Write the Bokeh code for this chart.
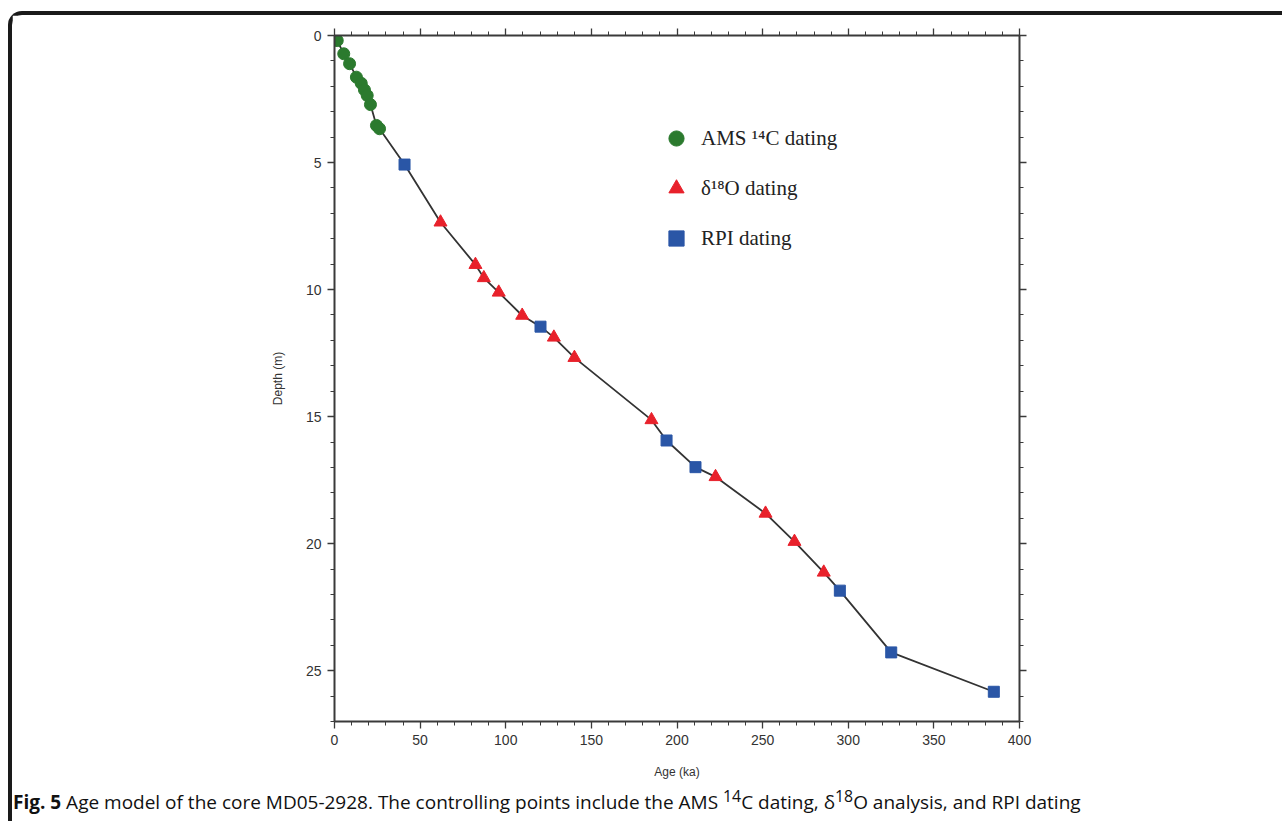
from bokeh.plotting import figure
from bokeh.models import (Range1d, LinearAxis, SingleIntervalTicker, Legend, LegendItem, Div)
from bokeh.layouts import column
from bokeh.embed import file_html
from bokeh.resources import INLINE

# ---- data ----
ams_age = [1.6, 5.4, 8.8, 12.8, 15.6, 17.5, 19.1, 21.0, 24.5, 26.3]
ams_depth = [0.20, 0.72, 1.11, 1.64, 1.88, 2.14, 2.36, 2.72, 3.54, 3.67]
d18o_age = [61.9, 82.3, 87.2, 95.9, 109.6, 128.1, 140.1, 185.1, 222.5, 251.7, 268.6, 285.7]
d18o_depth = [7.35, 9.02, 9.54, 10.11, 11.02, 11.88, 12.68, 15.13, 17.37, 18.81, 19.92, 21.13]
rpi_age = [40.9, 120.3, 193.9, 210.8, 295.1, 325.1, 385.0]
rpi_depth = [5.08, 11.46, 15.94, 16.99, 21.85, 24.28, 25.83]

labels = ["AMS \u00b9\u2074C dating", "\u03b4\u00b9\u2078O dating", "RPI dating"]
caption_html = ("<b>Fig. 5</b> Age model of the core MD05-2928. The controlling points include "
                "the AMS <sup>14</sup>C dating, \u03b4<sup>18</sup>O analysis, and RPI dating")

pts = sorted(zip(ams_depth + d18o_depth + rpi_depth, ams_age + d18o_age + rpi_age))
line_depth = [d for d, a in pts]
line_age = [a for d, a in pts]

# page content starts at (12, 15) inside the card border
FW, FH = 1270, 775
p = figure(width=FW, height=FH, output_backend="svg", toolbar_location=None,
           x_range=Range1d(0, 400), y_range=Range1d(27, 0),
           min_border_left=334 - 12, min_border_right=FW - (1019 - 12),
           min_border_top=35 - 15, min_border_bottom=FH - (721 - 15),
           x_axis_location=None, y_axis_location=None)
p.xgrid.visible = False
p.ygrid.visible = False
p.outline_line_color = None
p.background_fill_color = "white"
p.border_fill_color = "white"

AX = "#3a3a3a"
def style_axis(ax, show_labels):
    ax.axis_line_color = AX
    ax.axis_line_width = 2
    ax.major_tick_line_color = AX
    ax.minor_tick_line_color = AX
    ax.major_tick_line_width = 1.3
    ax.minor_tick_line_width = 1
    ax.major_tick_out = 7
    ax.major_tick_in = 0
    ax.minor_tick_out = 4
    ax.minor_tick_in = 0
    ax.major_label_text_font = "Liberation Sans"
    ax.major_label_text_font_size = "14px"
    ax.major_label_text_color = "#333333"
    ax.major_label_standoff = 6
    ax.axis_label_text_font = "Liberation Sans"
    ax.axis_label_text_font_size = "12px"
    ax.axis_label_text_font_style = "normal"
    ax.axis_label_text_color = "#333333"
    if not show_labels:
        ax.major_label_text_color = None

xb = LinearAxis(ticker=SingleIntervalTicker(interval=50, num_minor_ticks=5), axis_label="Age (ka)")
style_axis(xb, True)
xb.axis_label_standoff = 17
p.add_layout(xb, "below")
xt = LinearAxis(ticker=SingleIntervalTicker(interval=50, num_minor_ticks=5))
style_axis(xt, False)
p.add_layout(xt, "above")
yl = LinearAxis(ticker=SingleIntervalTicker(interval=5, num_minor_ticks=5), axis_label="Depth (m)")
style_axis(yl, True)
yl.axis_label_standoff = 18
p.add_layout(yl, "left")
yr = LinearAxis(ticker=SingleIntervalTicker(interval=5, num_minor_ticks=5))
style_axis(yr, False)
p.add_layout(yr, "right")

p.line(line_age, line_depth, line_color="#333333", line_width=1.8)
r_ams = p.scatter(ams_age, ams_depth, marker="circle", size=12, fill_color="#2b7a2e", line_color="#2b7a2e")
r_d18 = p.scatter(d18o_age, d18o_depth, marker="triangle", size=13, fill_color="#e8212b", line_color="#e8212b")
r_rpi = p.scatter(rpi_age, rpi_depth, marker="square", size=11, fill_color="#2a56a6", line_color="#2a56a6")

legend = Legend(items=[LegendItem(label=labels[0], renderers=[r_ams]),
                       LegendItem(label=labels[1], renderers=[r_d18]),
                       LegendItem(label=labels[2], renderers=[r_rpi])],
                location=(323, 464), orientation="vertical",
                border_line_color=None, background_fill_alpha=0,
                padding=0, margin=0, spacing=12,
                glyph_width=38, glyph_height=38, label_height=38,
                label_standoff=6,
                label_text_font="Liberation Serif", label_text_font_size="21px",
                label_text_color="#222222")
p.add_layout(legend, "center")

cap = Div(text=caption_html, width=FW, height=25,
          styles={"font-family": "Open Sans", "font-size": "19px", "color": "#111111",
                  "line-height": "25px", "white-space": "nowrap",
                  "position": "relative", "left": "-4px", "top": "-11px"})

page = column(p, cap, spacing=0,
              styles={"margin-left": "8px", "margin-top": "11px",
                      "border-left": "4px solid #1a1a1a", "border-top": "4px solid #1a1a1a",
                      "border-top-left-radius": "14px", "background": "white"})

open("out.html", "w").write(file_html(page, INLINE))
